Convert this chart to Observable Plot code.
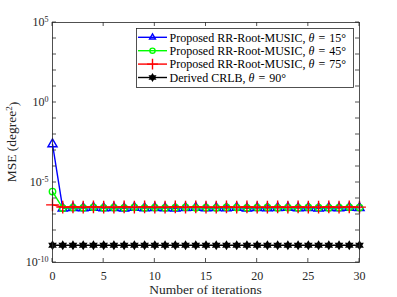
<!DOCTYPE html>
<html><head><meta charset="utf-8">
<script src="https://cdn.jsdelivr.net/npm/d3@7"></script>
<script src="https://cdn.jsdelivr.net/npm/@observablehq/plot@0.6"></script>
<style>body{margin:0;background:#fff;} #c{position:relative;width:397px;height:297px;}</style>
</head><body><div id="c"></div>
<script>
const iterations = [0,1,2,3,4,5,6,7,8,9,10,11,12,13,14,15,16,17,18,19,20,21,22,23,24,25,26,27,28,29,30];
const mse15 = [2.5e-3,2.4e-7,2.6e-7,2.5e-7,2.7e-7,2.5e-7,2.6e-7,2.4e-7,2.7e-7,2.5e-7,2.6e-7,2.5e-7,2.4e-7,2.6e-7,2.7e-7,2.5e-7,2.6e-7,2.5e-7,2.7e-7,2.4e-7,2.6e-7,2.5e-7,2.6e-7,2.7e-7,2.5e-7,2.6e-7,2.4e-7,2.6e-7,2.5e-7,2.7e-7,2.6e-7];
const mse45 = [2.7e-6,2.5e-7,2.7e-7,2.6e-7,2.8e-7,2.6e-7,2.7e-7,2.6e-7,2.8e-7,2.6e-7,2.7e-7,2.6e-7,2.7e-7,2.8e-7,2.6e-7,2.7e-7,2.6e-7,2.8e-7,2.7e-7,2.6e-7,2.7e-7,2.8e-7,2.6e-7,2.7e-7,2.6e-7,2.8e-7,2.7e-7,2.6e-7,2.7e-7,2.8e-7,2.7e-7];
const mse75 = [4.0e-7,2.9e-7,3.0e-7,2.9e-7,3.0e-7,2.9e-7,2.9e-7,3.0e-7,2.9e-7,3.0e-7,2.9e-7,2.9e-7,3.0e-7,2.9e-7,3.0e-7,2.9e-7,2.9e-7,3.0e-7,2.9e-7,3.0e-7,2.9e-7,2.9e-7,3.0e-7,2.9e-7,3.0e-7,2.9e-7,2.9e-7,3.0e-7,2.9e-7,3.0e-7,2.9e-7];
const crlb90 = [1.2e-9,1.2e-9,1.2e-9,1.2e-9,1.2e-9,1.2e-9,1.2e-9,1.2e-9,1.2e-9,1.2e-9,1.2e-9,1.2e-9,1.2e-9,1.2e-9,1.2e-9,1.2e-9,1.2e-9,1.2e-9,1.2e-9,1.2e-9,1.2e-9,1.2e-9,1.2e-9,1.2e-9,1.2e-9,1.2e-9,1.2e-9,1.2e-9,1.2e-9,1.2e-9,1.2e-9];
const seriesPrefix = ["Proposed RR-Root-MUSIC, ","Proposed RR-Root-MUSIC, ","Proposed RR-Root-MUSIC, ","Derived CRLB, "];
const seriesAngles = ["15°","45°","75°","90°"];
const seriesColors = ["#0000ff","#00ff00","#ff0000","#000000"];
const xTicks = [0,5,10,15,20,25,30];
const yLabelTicks = [1e-10,1e-5,1e0,1e5];
const yMinorTicks = [1e-10,1e-9,1e-8,1e-7,1e-6,1e-5,1e-4,1e-3,1e-2,1e-1,1e0,1e1,1e2,1e3,1e4,1e5];

const hexagram = {draw(ctx, size){
  const R = Math.sqrt(size/Math.PI), r = R/Math.sqrt(3);
  for (let i=0;i<12;i++){
    const a = -Math.PI/2 + i*Math.PI/6, rr = i%2===0 ? R : r;
    const x = rr*Math.cos(a), y = rr*Math.sin(a);
    if (i===0) ctx.moveTo(x,y); else ctx.lineTo(x,y);
  }
  ctx.closePath();
}};

const arrays = [mse15, mse45, mse75, crlb90];
const tables = arrays.map(a => iterations.map((x,i)=>({x, y:a[i]})));
const symbols = ["triangle","circle","plus",hexagram];
const radii = [3.4, 3.2, 4.2, 3.6];
const legendRadii = [2.8, 2.6, 3.6, 3.2];
const font = "'Liberation Serif','Times New Roman',serif";
const axisColor = "#262626";

const marks = [];
tables.forEach((t,k)=>{
  marks.push(Plot.line(t,{x:"x",y:"y",stroke:seriesColors[k],strokeWidth:1.4}));
  marks.push(Plot.dot(t,{x:"x",y:"y",symbol:()=>symbols[k],stroke:seriesColors[k],
    fill: k===3 ? "#000" : "none", r: radii[k], strokeWidth:1.4}));
});

const chart = Plot.plot({
  width:397, height:297,
  marginLeft:52, marginRight:38, marginTop:22, marginBottom:35,
  style:{fontFamily:font, fontSize:"11px", color:axisColor, background:"#fff"},
  x:{domain:[0,30]},
  y:{type:"log", domain:[1e-10,1e5]},
  marks:[
    ...marks,
    Plot.frame({stroke:axisColor, strokeWidth:0.8}),
    Plot.axisX({anchor:"bottom", ticks:xTicks, tickSize:0, tickPadding:9, label:null, fontSize:12}),
    Plot.axisY({anchor:"left", ticks:yLabelTicks, tickSize:0, tickPadding:4, tickFormat:d=>"10^"+Math.round(Math.log10(d)), label:null, fontSize:12}),
  ]
});
document.getElementById("c").appendChild(chart);

const svg = d3.select(chart);
const sx = chart.scale("x"), sy = chart.scale("y");
const L=52, R=397-38, T=22, B=297-35;
// superscript tick labels
svg.selectAll('g[aria-label="y-axis tick label"] text').each(function(){
  const t = d3.select(this); const s = t.text();
  if (!s.startsWith("10^")) return;
  const e = s.slice(3);
  t.text(null);
  t.append("tspan").text("10");
  t.append("tspan").attr("dy","-0.5em").attr("font-size","8px").text(e);
});
// inward ticks
const tg = svg.append("g").attr("stroke",axisColor).attr("stroke-width",0.8);
xTicks.forEach(v=>{
  const x = sx.apply(v);
  tg.append("line").attr("x1",x).attr("x2",x).attr("y1",B).attr("y2",B-4);
  tg.append("line").attr("x1",x).attr("x2",x).attr("y1",T).attr("y2",T+4);
});
yMinorTicks.forEach(v=>{
  const y = sy.apply(v);
  tg.append("line").attr("x1",L).attr("x2",L+4).attr("y1",y).attr("y2",y);
  tg.append("line").attr("x1",R).attr("x2",R-4).attr("y1",y).attr("y2",y);
});
// axis titles
svg.append("text").attr("x",(L+R)/2).attr("y",294).attr("text-anchor","middle")
  .attr("font-family",font).attr("font-size","13.5px").attr("fill","#262626").text("Number of iterations");
const yt = svg.append("text").attr("transform",`translate(16,${(T+B)/2}) rotate(-90)`).attr("text-anchor","middle")
  .attr("font-family",font).attr("font-size","13.5px").attr("fill","#262626");
yt.append("tspan").text("MSE (degree");
yt.append("tspan").attr("dy","-0.45em").attr("font-size","9px").text("2");
yt.append("tspan").attr("dy","0.45em").text(")");
// legend
const lg = svg.append("g").attr("font-family",font).attr("font-size","12px").attr("fill","#000").attr("text-anchor","start");
lg.append("rect").attr("x",136.5).attr("y",28.5).attr("width",217).attr("height",59).attr("fill","#fff").attr("stroke",axisColor).attr("stroke-width",0.8);
seriesPrefix.forEach((pre,k)=>{
  const y = 37.3 + k*13.4;
  lg.append("line").attr("x1",138).attr("x2",167).attr("y1",y).attr("y2",y).attr("stroke",seriesColors[k]).attr("stroke-width",1.4);
  const symType = typeof symbols[k]==="string" ? ({triangle:d3.symbolTriangle2, circle:d3.symbolCircle, plus:d3.symbolPlus})[symbols[k]] : symbols[k];
  const sym = d3.symbol(symType, legendRadii[k]**2*Math.PI);
  lg.append("path").attr("d",sym()).attr("transform",`translate(152.5,${y})`)
    .attr("stroke",seriesColors[k]).attr("stroke-width",1.4).attr("fill",k===3?"#000":"none");
  const tx = lg.append("text").attr("x",169.5).attr("y",y).attr("dy","0.35em");
  tx.append("tspan").text(pre);
  tx.append("tspan").attr("font-style","italic").text("θ");
  tx.append("tspan").attr("dx","4").text("=");
  tx.append("tspan").attr("dx","4").text(seriesAngles[k]);
});
</script>
</body></html>
